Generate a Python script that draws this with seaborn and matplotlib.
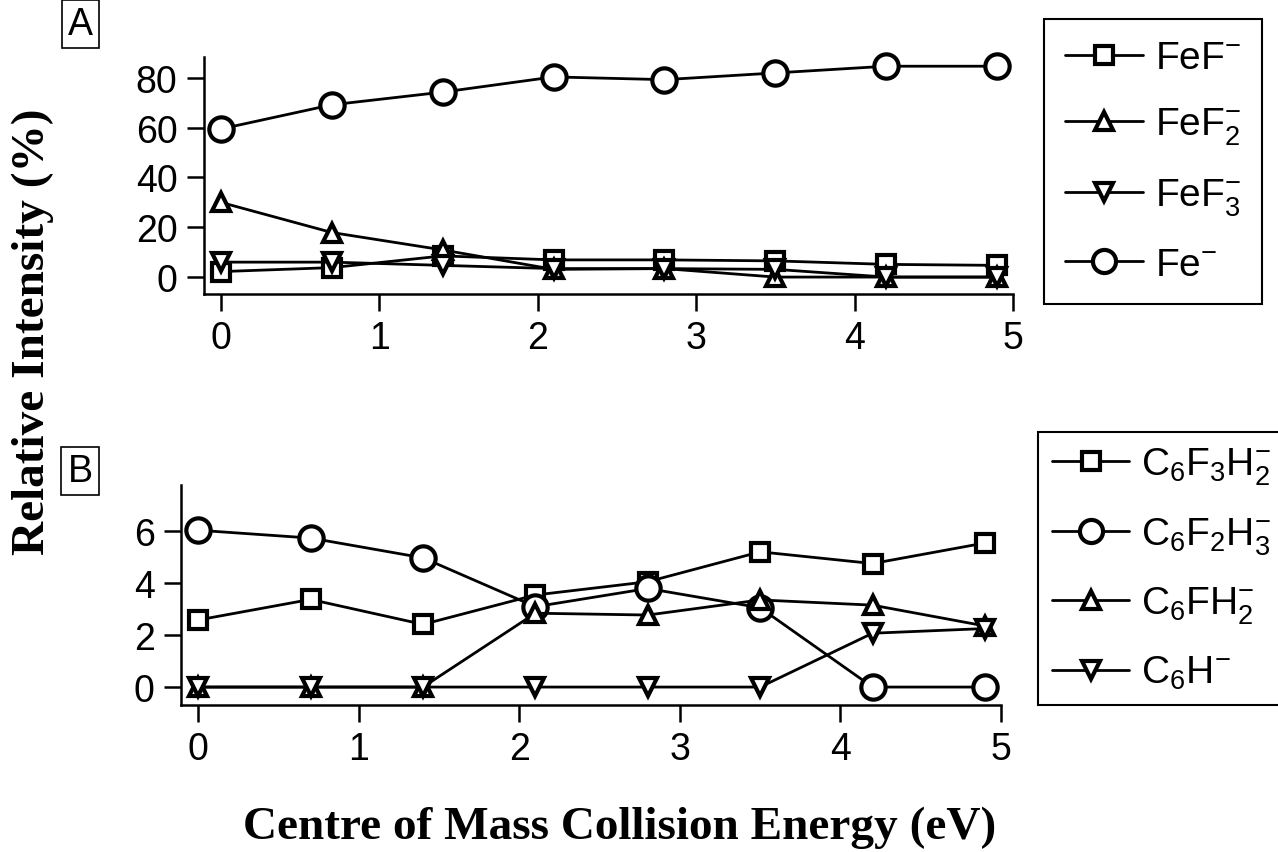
import matplotlib
matplotlib.use("Agg")
import matplotlib.pyplot as plt
import pandas as pd
import seaborn as sns

# Centre-of-mass collision energies (eV)
energy = [0.0, 0.7, 1.4, 2.1, 2.8, 3.5, 4.2, 4.9]

# Panel A: iron-containing product ions (%)
fef = [2.2, 3.8, 8.5, 6.9, 6.9, 6.5, 5.1, 4.7]
fef2 = [30.0, 17.9, 10.9, 3.1, 3.4, 0.0, 0.0, 0.0]
fef3 = [6.0, 6.0, 4.7, 3.4, 3.4, 3.1, 0.0, 0.0]
fe = [59.5, 69.2, 74.3, 80.4, 79.3, 82.0, 84.7, 84.7]

# Panel B: organic product ions (%)
c6f3h2 = [2.58, 3.37, 2.41, 3.54, 4.05, 5.20, 4.75, 5.54]
c6f2h3 = [6.03, 5.73, 4.97, 3.09, 3.79, 3.05, 0.0, 0.0]
c6fh2 = [0.0, 0.0, 0.0, 2.84, 2.77, 3.35, 3.15, 2.35]
c6h = [0.0, 0.0, 0.0, 0.0, 0.0, 0.0, 2.07, 2.25]

labels_a = ["FeF$^{-}$", "FeF$_2^{-}$", "FeF$_3^{-}$", "Fe$^{-}$"]
labels_b = ["C$_6$F$_3$H$_2^{-}$", "C$_6$F$_2$H$_3^{-}$", "C$_6$FH$_2^{-}$", "C$_6$H$^{-}$"]

xticks = [0, 1, 2, 3, 4, 5]
yticks_a = [0, 20, 40, 60, 80]
yticks_b = [0, 2, 4, 6]

sns.set_style("ticks")
plt.rcParams.update({
    "font.family": ["Liberation Sans", "DejaVu Sans"],
    "mathtext.fontset": "custom",
    "mathtext.rm": "Liberation Sans",
    "mathtext.it": "Liberation Sans",
    "mathtext.default": "regular",
    "text.color": "black",
    "axes.labelcolor": "black",
    "axes.linewidth": 1.8,
    "xtick.major.width": 1.8,
    "ytick.major.width": 1.8,
    "xtick.major.size": 12,
    "ytick.major.size": 12,
    "xtick.major.pad": 7,
    "ytick.major.pad": 7,
    "xtick.labelsize": 27,
    "ytick.labelsize": 27,
    "xtick.color": "black",
    "ytick.color": "black",
    "axes.edgecolor": "black",
})

W, H = 1278, 853
fig = plt.figure(figsize=(W / 100, H / 100), dpi=100)


def frac_box(x0, y0, x1, y1):
    return [x0 / W, 1 - y1 / H, (x1 - x0) / W, (y1 - y0) / H]


ax_a = fig.add_axes(frac_box(204, 58, 1013, 295))
ax_b = fig.add_axes(frac_box(181, 486, 1001, 706))

marker_sizes = {"o": 17.5, "s": 13, "^": 13.5, "v": 13.5}


def draw_series(ax, values, marker, label):
    df = pd.DataFrame({"energy": energy, "value": values})
    sns.lineplot(
        data=df, x="energy", y="value", ax=ax, color="black",
        marker=marker, markersize=marker_sizes[marker],
        markerfacecolor="white", markeredgecolor="black",
        markeredgewidth=3.0, linewidth=2.0, label=label, clip_on=False,
    )


series_a = [(fef, "s"), (fef2, "^"), (fef3, "v"), (fe, "o")]
for (vals, mk), lab in zip(series_a, labels_a):
    draw_series(ax_a, vals, mk, lab)

series_b = [(c6f3h2, "s"), (c6f2h3, "o"), (c6fh2, "^"), (c6h, "v")]
for (vals, mk), lab in zip(series_b, labels_b):
    draw_series(ax_b, vals, mk, lab)

for ax, yt in ((ax_a, yticks_a), (ax_b, yticks_b)):
    ax.set_xticks(xticks)
    ax.set_yticks(yt)
    ax.set_xlim(-0.107, 5.0)
    ax.set_xlabel("")
    ax.set_ylabel("")
    ax.spines["top"].set_visible(False)
    ax.spines["right"].set_visible(False)
    ax.tick_params(direction="out")

ax_a.set_ylim(-6.8, 88.4)
ax_b.set_ylim(-0.69, 7.77)

legend_kw = dict(
    loc="upper left", bbox_transform=fig.transFigure, borderaxespad=0,
    frameon=True, fancybox=False, edgecolor="black", framealpha=1,
    fontsize=28, handlelength=2.0, handletextpad=0.3,
    markerscale=0.95,
)
leg_a = ax_a.legend(bbox_to_anchor=(1044 / W, 1 - 20 / H),
                    labelspacing=0.75, borderpad=0.55, **legend_kw)
leg_b = ax_b.legend(bbox_to_anchor=(1038 / W, 1 - 433 / H),
                    labelspacing=0.72, borderpad=0.35, **legend_kw)
for leg in (leg_a, leg_b):
    leg.get_frame().set_linewidth(1.5)

# Panel tags
for tag, ypix in (("A", 25), ("B", 472)):
    fig.text(80 / W, 1 - ypix / H, tag, fontsize=27, ha="center", va="center",
             bbox=dict(boxstyle="square,pad=0.16", fc="white", ec="black", lw=1.2))

serif_bold = dict(family=["Liberation Serif", "DejaVu Serif"], weight="bold", fontsize=34)
fig.text(33 / W, 1 - 332 / H, "Relative Intensity (%)", rotation=90,
         ha="center", va="center", **serif_bold)
fig.text(620 / W, 1 - 828 / H, "Centre of Mass Collision Energy (eV)",
         ha="center", va="center", **serif_bold)

fig.savefig("out.png", dpi=100)
